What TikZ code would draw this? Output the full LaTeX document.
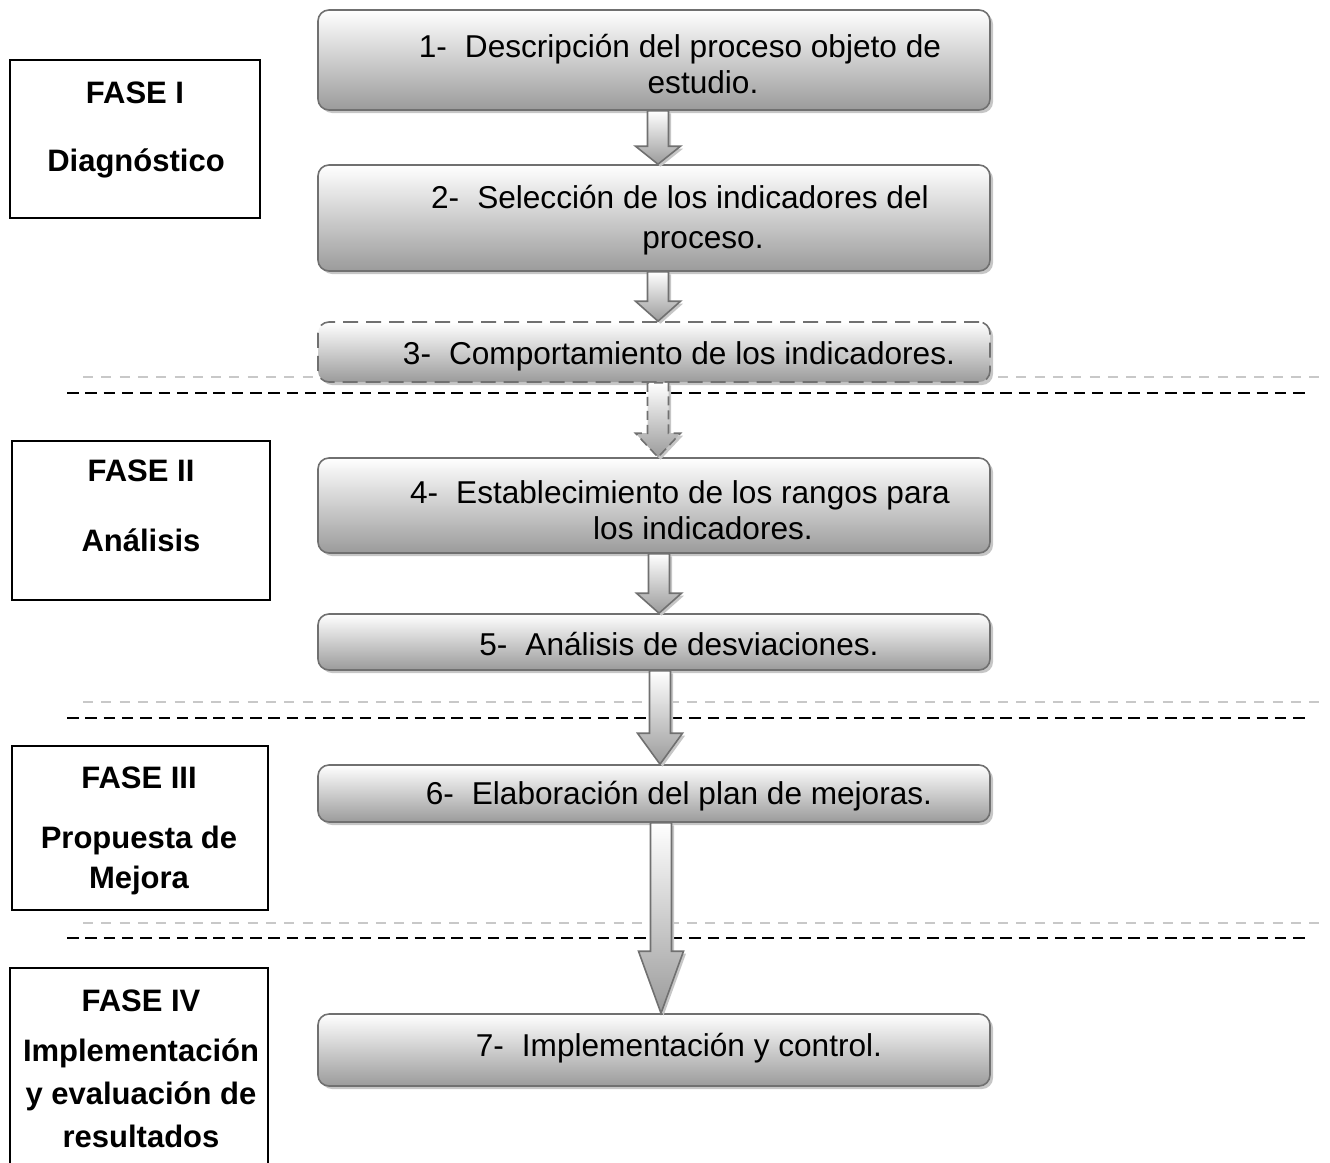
\documentclass[tikz,border=0pt]{standalone}
\usepackage{fontspec}
\setmainfont{Liberation Sans}
\usetikzlibrary{calc,shadows}

\definecolor{boxline}{RGB}{112,112,112}
\definecolor{boxdark}{RGB}{155,155,155}
\definecolor{shadowgray}{RGB}{198,198,198}
\definecolor{sepgray}{RGB}{200,200,200}

\tikzset{
  stepbox/.style={draw=boxline, line width=1.6pt, rounded corners=11pt,
    top color=white, bottom color=boxdark, minimum width=672pt, inner sep=0pt,
    drop shadow={shadow xshift=3pt, shadow yshift=-3pt, opacity=1, fill=shadowgray}},
  steptext/.style={font=\fontsize{31.6}{35.5}\selectfont, align=center, inner sep=0pt},
  phasebox/.style={draw=black, line width=1.8pt, inner sep=0pt},
  phasetext/.style={font=\fontsize{31}{36}\selectfont\bfseries, inner sep=0pt, anchor=base},
  blockarrow/.style={draw=boxline, line width=1.6pt, line join=miter,
    top color=white, bottom color=boxdark,
    drop shadow={shadow xshift=2.5pt, shadow yshift=-2.5pt, opacity=1, fill=shadowgray}},
  sepblack/.style={draw=black, line width=2.6pt, dash pattern=on 11.5pt off 6.8pt},
  sepgrayline/.style={draw=sepgray, line width=2.6pt, dash pattern=on 10pt off 8.3pt},
}

% block arrow from the bottom of #2 to the top of #3; #4 = head length, #5 = x offset
\newcommand{\blockarr}[5][]{%
  \draw[blockarrow,#1] let \p1=(#2.south), \p2=(#3.north) in
    ({\x1+#5pt-10.5pt},\y1) -- ({\x1+#5pt-10.5pt},{\y2+#4pt})
    -- ({\x1+#5pt-22.5pt},{\y2+#4pt}) -- ({\x1+#5pt},\y2)
    -- ({\x1+#5pt+22.5pt},{\y2+#4pt}) -- ({\x1+#5pt+10.5pt},{\y2+#4pt})
    -- ({\x1+#5pt+10.5pt},\y1) -- cycle;}

\begin{document}
\begin{tikzpicture}[x=1pt,y=1pt]
\useasboundingbox (0,0) rectangle (1330,-1162);
\clip (0,0) rectangle (1330,-1162);

% phase separators
\draw[sepgrayline] (83,-377) -- (1325,-377);
\draw[sepblack] (67,-393) -- (1307,-393);
\draw[sepgrayline] (83,-702) -- (1325,-702);
\draw[sepblack] (67,-718) -- (1307,-718);
\draw[sepgrayline] (83,-923) -- (1325,-923);
\draw[sepblack] (67,-938) -- (1307,-938);

% process steps
\node[stepbox, minimum height=100pt] (b1) at (654,-60) {};
\node[stepbox, minimum height=106pt] (b2) at (654,-218) {};
\node[stepbox, minimum height=60pt, dash pattern=on 15pt off 8pt] (b3) at (654,-352) {};
\node[stepbox, minimum height=95pt] (b4) at (654,-505.5) {};
\node[stepbox, minimum height=56pt] (b5) at (654,-642) {};
\node[stepbox, minimum height=57pt] (b6) at (654,-793.5) {};
\node[stepbox, minimum height=72pt] (b7) at (654,-1050) {};

\node[steptext] (t1) at (703,-64) {\llap{1-\hspace{18pt}}Descripción del proceso objeto de\\estudio.};
\node[steptext] (t2) at (703,-220) {\llap{2-\hspace{18pt}}Selección de los indicadores del\\[5pt]proceso.};
\node[steptext] (t3) at (702,-356) {\llap{3-\hspace{18pt}}Comportamiento de los indicadores.};
\node[steptext] (t4) at (703,-510) {\llap{4-\hspace{18pt}}Establecimiento de los rangos para\\[1pt]los indicadores.};
\node[steptext] (t5) at (702,-644) {\llap{5-\hspace{18pt}}Análisis de desviaciones.};
\node[steptext] (t6) at (702,-796) {\llap{6-\hspace{18pt}}Elaboración del plan de mejoras.};
\node[steptext] (t7) at (702,-1048) {\llap{7-\hspace{18pt}}Implementación y control.};

% connecting block arrows
\blockarr{b1}{b2}{18}{4}
\blockarr{b2}{b3}{20}{4}
\blockarr[dash pattern=on 9pt off 5pt]{b3}{b4}{24}{4}
\blockarr{b4}{b5}{20}{5}
\blockarr{b5}{b6}{31}{6}
\blockarr{b6}{b7}{62}{7}

% phase labels
\node[phasebox, minimum width=250pt, minimum height=158pt] (f1) at (135,-139) {};
\node[phasetext] (f1a) at (135,-103) {FASE I};
\node[phasetext] (f1b) at (136,-171) {Diagnóstico};

\node[phasebox, minimum width=258pt, minimum height=159pt] (f2) at (141,-520.5) {};
\node[phasetext] (f2a) at (141,-481) {FASE II};
\node[phasetext] (f2b) at (141,-551) {Análisis};

\node[phasebox, minimum width=256pt, minimum height=164pt] (f3) at (140,-828) {};
\node[phasetext] (f3a) at (139,-788) {FASE III};
\node[phasetext] (f3b) at (139,-848) {Propuesta de};
\node[phasetext] (f3c) at (139,-888) {Mejora};

\node[phasebox, minimum width=258pt, minimum height=210pt] (f4) at (139,-1073) {};
\node[phasetext] (f4a) at (141,-1011) {FASE IV};
\node[phasetext] (f4b) at (141,-1061) {Implementación};
\node[phasetext] (f4c) at (141,-1104) {y evaluación de};
\node[phasetext] (f4d) at (141,-1147) {resultados};
\end{tikzpicture}
\end{document}
